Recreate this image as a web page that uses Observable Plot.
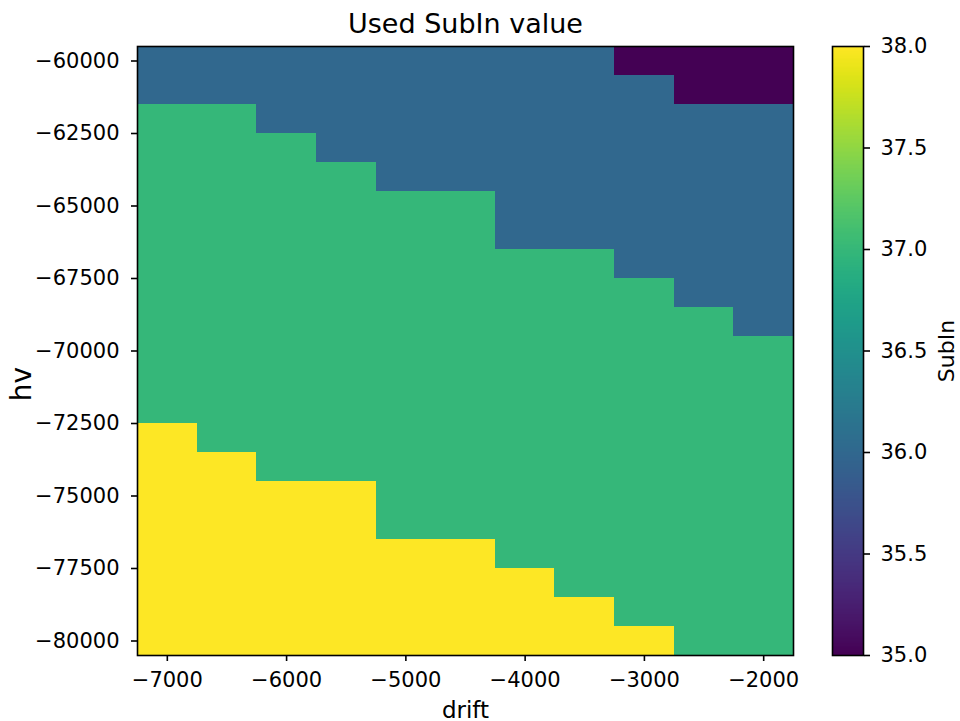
<!DOCTYPE html>
<html>
<head>
<meta charset="utf-8">
<script src="https://cdn.jsdelivr.net/npm/d3@7"></script>
<script src="https://cdn.jsdelivr.net/npm/@observablehq/plot@0.6"></script>
<style>
  body { margin: 0; background: #fff; }
  #fig { position: relative; width: 960px; height: 721px; }
  #fig svg { position: absolute; top: 0; }
</style>
</head>
<body>
<div id="fig"></div>
<script>
// Grid coordinates
const drift = [-7000, -6500, -6000, -5500, -5000, -4500, -4000, -3500, -3000, -2500, -2000];
const hv = [-60000, -61000, -62000, -63000, -64000, -65000, -66000, -67000, -68000, -69000, -70000,
            -71000, -72000, -73000, -74000, -75000, -76000, -77000, -78000, -79000, -80000];

// SubIn value used at each (hv, drift): one row per hv (top to bottom), one column per drift
const subIn = [
  [36, 36, 36, 36, 36, 36, 36, 36, 35, 35, 35],
  [36, 36, 36, 36, 36, 36, 36, 36, 36, 35, 35],
  [37, 37, 36, 36, 36, 36, 36, 36, 36, 36, 36],
  [37, 37, 37, 36, 36, 36, 36, 36, 36, 36, 36],
  [37, 37, 37, 37, 36, 36, 36, 36, 36, 36, 36],
  [37, 37, 37, 37, 37, 37, 36, 36, 36, 36, 36],
  [37, 37, 37, 37, 37, 37, 36, 36, 36, 36, 36],
  [37, 37, 37, 37, 37, 37, 37, 37, 36, 36, 36],
  [37, 37, 37, 37, 37, 37, 37, 37, 37, 36, 36],
  [37, 37, 37, 37, 37, 37, 37, 37, 37, 37, 36],
  [37, 37, 37, 37, 37, 37, 37, 37, 37, 37, 37],
  [37, 37, 37, 37, 37, 37, 37, 37, 37, 37, 37],
  [37, 37, 37, 37, 37, 37, 37, 37, 37, 37, 37],
  [38, 37, 37, 37, 37, 37, 37, 37, 37, 37, 37],
  [38, 38, 37, 37, 37, 37, 37, 37, 37, 37, 37],
  [38, 38, 38, 38, 37, 37, 37, 37, 37, 37, 37],
  [38, 38, 38, 38, 37, 37, 37, 37, 37, 37, 37],
  [38, 38, 38, 38, 38, 38, 37, 37, 37, 37, 37],
  [38, 38, 38, 38, 38, 38, 38, 37, 37, 37, 37],
  [38, 38, 38, 38, 38, 38, 38, 38, 37, 37, 37],
  [38, 38, 38, 38, 38, 38, 38, 38, 38, 37, 37]
];

// Tick labels
const xTicks = [-7000, -6000, -5000, -4000, -3000, -2000];
const yTicks = [-60000, -62500, -65000, -67500, -70000, -72500, -75000, -77500, -80000];
const colorTicks = [35, 35.5, 36, 36.5, 37, 37.5, 38];
const colorDomain = [35, 38];

// Long table of cells
const cells = [];
hv.forEach((h, i) => drift.forEach((d, j) => cells.push({drift: d, hv: h, value: subIn[i][j]})));
const dx = (drift[1] - drift[0]) / 2;
const dy = (hv[0] - hv[1]) / 2;

const font = "DejaVu Sans";
const baseStyle = {fontFamily: font, fontSize: "21px", color: "#000", background: "transparent", overflow: "visible"};

const main = Plot.plot({
  width: 960, height: 721,
  marginLeft: 137, marginRight: 167, marginTop: 46, marginBottom: 66,
  style: baseStyle,
  x: {domain: [d3.min(drift) - dx, d3.max(drift) + dx]},
  y: {domain: [d3.min(hv) - dy, d3.max(hv) + dy]},
  color: {type: "linear", scheme: "viridis", domain: colorDomain},
  marks: [
    Plot.rect(cells, {
      x1: d => d.drift - dx, x2: d => d.drift + dx,
      y1: d => d.hv - dy, y2: d => d.hv + dy,
      fill: "value", shapeRendering: "crispEdges"
    }),
    Plot.frame({stroke: "#000", strokeWidth: 1.6}),
    Plot.axisX(xTicks, {tickSize: 6, tickPadding: 11, tickFormat: d3.format("d"), strokeWidth: 1.6, label: null}),
    Plot.axisY(yTicks, {tickSize: 6, tickPadding: 12, tickFormat: d3.format("d"), strokeWidth: 1.6, label: null}),
    Plot.text(["Used SubIn value"], {text: d => d, frameAnchor: "top", dy: -14, lineAnchor: "bottom", fontSize: 27, fill: "#000"}),
    Plot.text(["drift"], {text: d => d, frameAnchor: "bottom", dy: 62, lineAnchor: "bottom", fontSize: 23, fill: "#000"}),
    Plot.text(["hv"], {text: d => d, frameAnchor: "left", dx: -115, dy: 33, rotate: -90, textAnchor: "middle", lineAnchor: "middle", fontSize: 28, fill: "#000"})
  ]
});

const bar = Plot.plot({
  width: 160, height: 721,
  marginLeft: 32, marginRight: 97, marginTop: 46, marginBottom: 66,
  style: baseStyle,
  x: {domain: [0, 1], axis: null},
  y: {domain: colorDomain},
  color: {type: "linear", scheme: "viridis", domain: colorDomain},
  marks: [
    Plot.raster({fill: (x, y) => y, x1: 0, x2: 1, y1: colorDomain[0], y2: colorDomain[1], width: 2, height: 400}),
    Plot.frame({stroke: "#000", strokeWidth: 1.6}),
    Plot.axisY(colorTicks, {anchor: "right", tickSize: 6, tickPadding: 11, tickFormat: d3.format(".1f"), strokeWidth: 1.6, label: null}),
    Plot.text(["SubIn"], {text: d => d, frameAnchor: "right", dx: 83, rotate: -90, textAnchor: "middle", lineAnchor: "middle", fontSize: 22, fill: "#000"})
  ]
});
bar.style.left = "800px";
main.style.left = "0px";

const fig = document.getElementById("fig");
fig.appendChild(main);
fig.appendChild(bar);
</script>
</body>
</html>
